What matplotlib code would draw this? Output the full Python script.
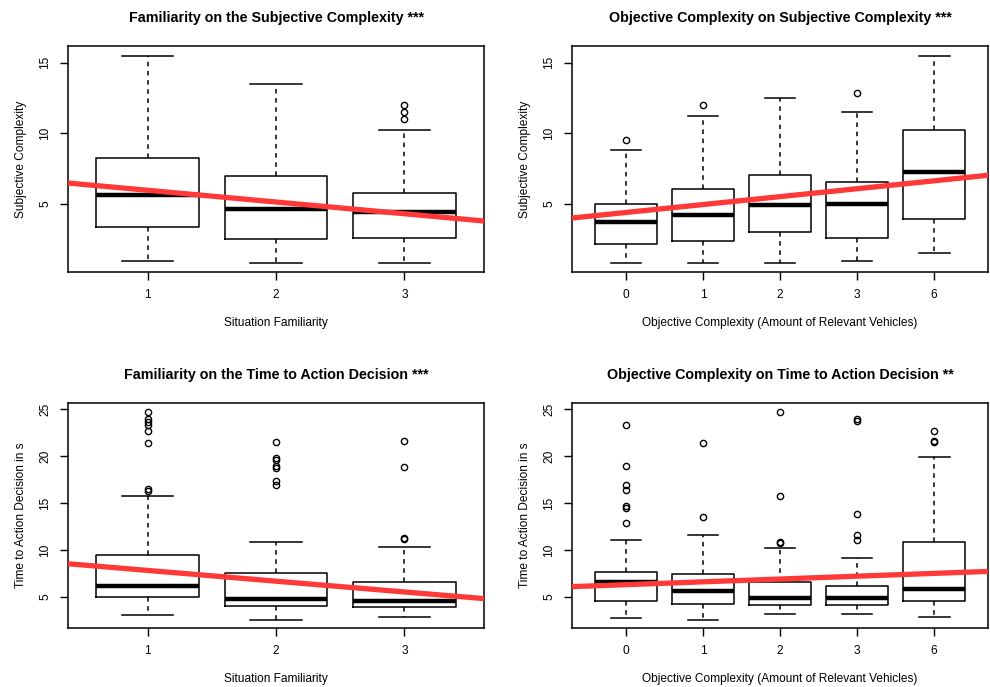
import numpy as np
import matplotlib.pyplot as plt

plt.rcParams['font.family'] = ['Liberation Sans', 'DejaVu Sans']

# familiarity -> subjective complexity
fam_labels = ['1', '2', '3']
fam_sc_low = [1.0, 0.8, 0.8]
fam_sc_q1 = [3.4, 2.5, 2.57]
fam_sc_med = [5.67, 4.67, 4.4]
fam_sc_q3 = [8.25, 7.0, 5.75]
fam_sc_high = [15.5, 13.5, 10.2]
fam_sc_out = [[], [], [12.0, 11.5, 11.0]]
fam_sc_fit = [6.8, -0.83]

# objective complexity -> subjective complexity
obj_labels = ['0', '1', '2', '3', '6']
obj_sc_low = [0.8, 0.8, 0.8, 1.0, 1.5]
obj_sc_q1 = [2.15, 2.4, 3.0, 2.57, 3.92]
obj_sc_med = [3.75, 4.25, 4.95, 5.0, 7.25]
obj_sc_q3 = [5.0, 6.05, 7.05, 6.57, 10.25]
obj_sc_high = [8.8, 11.2, 12.5, 11.5, 15.5]
obj_sc_out = [[9.5], [12.0], [], [12.85], []]
obj_sc_fit = [3.84, 0.56]

# familiarity -> time to action decision
fam_t_low = [3.12, 2.59, 2.9]
fam_t_q1 = [4.96, 4.07, 3.97]
fam_t_med = [6.17, 4.79, 4.57]
fam_t_q3 = [9.47, 7.58, 6.6]
fam_t_high = [15.7, 10.88, 10.35]
fam_t_out = [[24.7, 23.9, 23.6, 23.3, 22.7, 21.4, 16.45, 16.3],
             [21.5, 19.8, 19.6, 18.9, 18.7, 17.3, 16.9],
             [21.6, 18.8, 11.3, 11.15]]
fam_t_fit = [8.97, -1.145]

# objective complexity -> time to action decision
obj_t_low = [2.77, 2.59, 3.23, 3.23, 2.9]
obj_t_q1 = [4.57, 4.29, 4.11, 4.15, 4.57]
obj_t_med = [6.6, 5.6, 4.86, 4.86, 5.81]
obj_t_q3 = [7.69, 7.45, 6.56, 6.17, 10.85]
obj_t_high = [11.1, 11.6, 10.17, 9.18, 19.85]
obj_t_out = [[23.3, 18.9, 16.9, 16.4, 14.65, 14.5, 12.9],
             [21.4, 13.5],
             [24.7, 15.7, 10.8, 10.7],
             [23.95, 23.7, 13.86, 11.6, 11.1],
             [22.66, 21.6, 21.5]]
obj_t_fit = [6.01, 0.30]


def panel(ax, labels, low, q1, med, q3, high, out, fit, title, xlabel,
          ylabel, ylim, yticks):
    stats = []
    for i in range(len(labels)):
        stats.append(dict(whislo=low[i], q1=q1[i], med=med[i], q3=q3[i],
                          whishi=high[i], fliers=out[i]))
    n = len(labels)
    ax.bxp(stats, positions=range(1, n + 1), widths=0.8, patch_artist=False,
           boxprops=dict(color='black', lw=1.1),
           medianprops=dict(color='black', lw=3.2, solid_capstyle='butt'),
           whiskerprops=dict(color='black', lw=1.1, linestyle=(0, (3, 3))),
           capprops=dict(color='black', lw=1.1),
           capwidths=0.4,
           flierprops=dict(marker='o', mfc='none', mec='black', ms=4.5,
                           mew=1.0))
    ax.axline((0, fit[0]), slope=fit[1], color='#ff3838', lw=3.8,
              zorder=5)
    ax.set_xlim(0.5 - 0.04 * n, n + 0.5 + 0.04 * n)
    ax.set_ylim(ylim)
    ax.set_xticks(range(1, n + 1))
    ax.set_xticklabels(labels)
    ax.set_yticks(yticks)
    ax.set_yticklabels([str(v) for v in yticks], rotation=90, va='center')
    ax.tick_params(length=6, width=1, labelsize=8.6, pad=6)
    for s in ax.spines.values():
        s.set_linewidth(1.1)
    ax.set_title(title, fontweight='bold', fontsize=10.3, pad=17)
    ax.set_xlabel(xlabel, fontsize=8.6, labelpad=12)
    ax.set_ylabel(ylabel, fontsize=8.6, labelpad=9)


fig = plt.figure(figsize=(9.9, 6.87), dpi=100)
ax1 = fig.add_axes([0.0687, 0.6041, 0.4202, 0.329])
ax2 = fig.add_axes([0.5778, 0.6041, 0.4202, 0.329])
ax3 = fig.add_axes([0.0687, 0.0859, 0.4202, 0.3275])
ax4 = fig.add_axes([0.5778, 0.0859, 0.4202, 0.3275])

panel(ax1, fam_labels, fam_sc_low, fam_sc_q1, fam_sc_med, fam_sc_q3,
      fam_sc_high, fam_sc_out, fam_sc_fit,
      'Familiarity on the Subjective Complexity ***',
      'Situation Familiarity', 'Subjective Complexity',
      (0.19, 16.18), [5, 10, 15])
panel(ax2, obj_labels, obj_sc_low, obj_sc_q1, obj_sc_med, obj_sc_q3,
      obj_sc_high, obj_sc_out, obj_sc_fit,
      'Objective Complexity on Subjective Complexity ***',
      'Objective Complexity (Amount of Relevant Vehicles)',
      'Subjective Complexity', (0.19, 16.18), [5, 10, 15])
panel(ax3, fam_labels, fam_t_low, fam_t_q1, fam_t_med, fam_t_q3,
      fam_t_high, fam_t_out, fam_t_fit,
      'Familiarity on the Time to Action Decision ***',
      'Situation Familiarity', 'Time to Action Decision in s',
      (1.70, 25.64), [5, 10, 15, 20, 25])
panel(ax4, obj_labels, obj_t_low, obj_t_q1, obj_t_med, obj_t_q3,
      obj_t_high, obj_t_out, obj_t_fit,
      'Objective Complexity on Time to Action Decision **',
      'Objective Complexity (Amount of Relevant Vehicles)',
      'Time to Action Decision in s', (1.70, 25.64), [5, 10, 15, 20, 25])

fig.savefig('out.png', dpi=100)
